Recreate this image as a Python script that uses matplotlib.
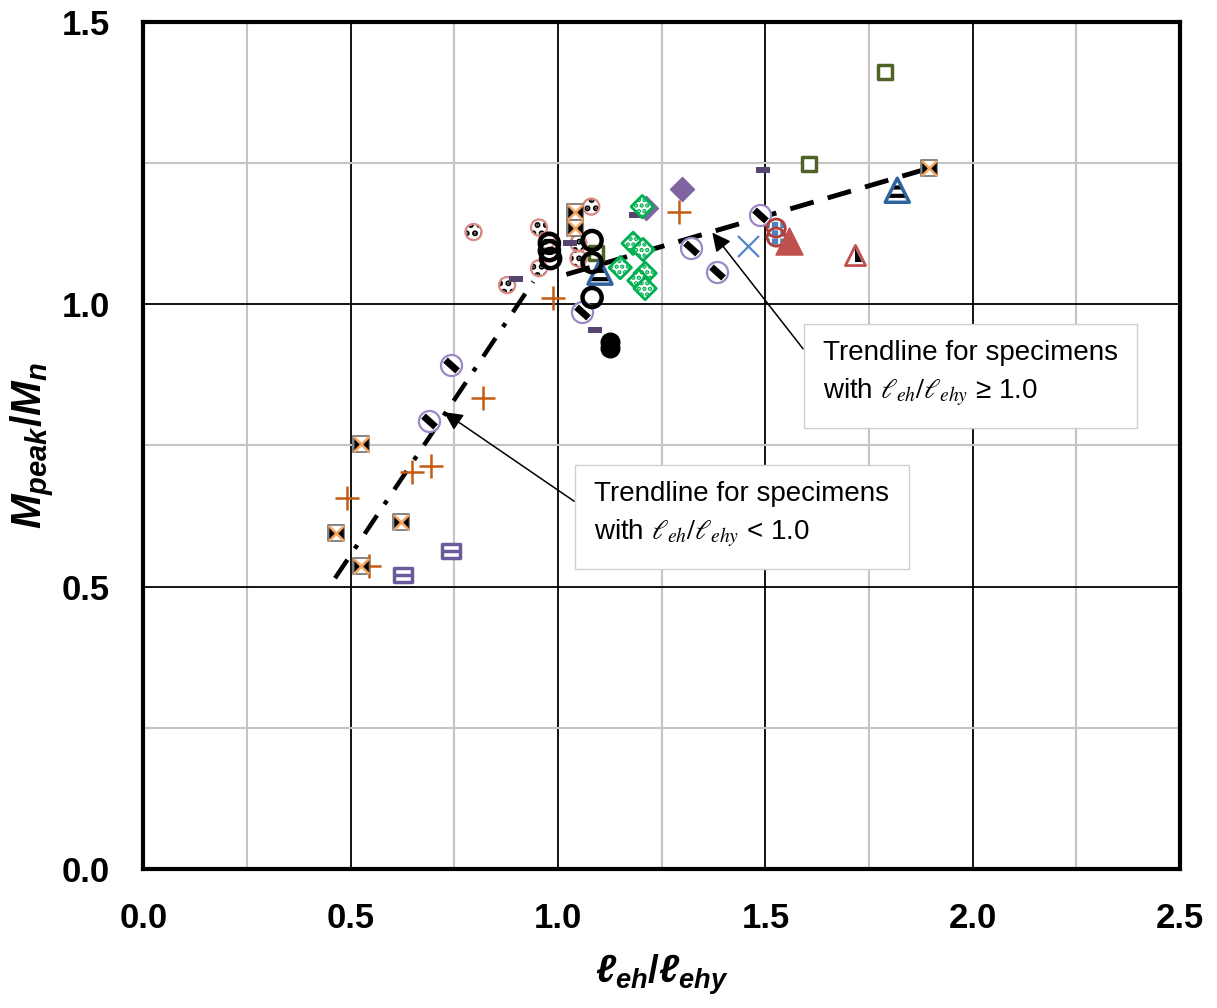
import numpy as np
import matplotlib
matplotlib.use("Agg")
import matplotlib.pyplot as plt
from matplotlib.path import Path

plt.rcParams['font.family'] = ['Liberation Sans', 'DejaVu Sans']
plt.rcParams['mathtext.fontset'] = 'custom'
plt.rcParams['mathtext.it'] = 'Liberation Sans:italic:bold'
plt.rcParams['mathtext.rm'] = 'Liberation Sans:bold'
plt.rcParams['mathtext.bf'] = 'Liberation Sans:italic:bold'

# ---- data ----
dot_circ_x = [0.796, 0.954, 1.080, 0.954, 1.049, 1.049, 0.877, 0.973]
dot_circ_y = [1.128, 1.136, 1.173, 1.064, 1.108, 1.081, 1.034, 1.113]

open_circ_x = [0.979, 0.979, 0.982, 1.082, 1.082, 1.082]
open_circ_y = [1.108, 1.095, 1.081, 1.113, 1.074, 1.012]

solid_circ_x = [1.126, 1.126]
solid_circ_y = [0.922, 0.934]

stripe_circ_x = [0.742, 0.689, 1.058, 1.321, 1.384, 1.487]
stripe_circ_y = [0.892, 0.793, 0.986, 1.099, 1.058, 1.158]

bar_x = [0.899, 1.029, 1.089, 1.188, 1.495]
bar_y = [1.044, 1.108, 0.954, 1.158, 1.237]

plus_x = [0.491, 0.544, 0.648, 0.694, 0.819, 0.988, 1.292]
plus_y = [0.657, 0.536, 0.703, 0.713, 0.834, 1.011, 1.163]

xsq_x = [0.464, 0.525, 0.525, 0.622, 1.041, 1.041, 1.895]
xsq_y = [0.595, 0.752, 0.536, 0.614, 1.163, 1.136, 1.241]

hsq_x = [0.626, 0.742]
hsq_y = [0.520, 0.563]

dot_dia_x = [1.203, 1.181, 1.205, 1.150, 1.210, 1.195, 1.210]
dot_dia_y = [1.173, 1.108, 1.097, 1.065, 1.055, 1.042, 1.028]

pdia_x = [1.299, 1.212]
pdia_y = [1.204, 1.170]

osq_x = [1.092, 1.606, 1.789]
osq_y = [1.090, 1.248, 1.412]

stri_x = [1.101, 1.818]
stri_y = [1.057, 1.202]

bx_x = [1.459]
bx_y = [1.104]

chk_x = [1.526, 1.526]
chk_y = [1.135, 1.119]

rtri_x = [1.557]
rtri_y = [1.113]

htri_x = [1.716]
htri_y = [1.088]

trend_lo_x = [0.462, 0.94]
trend_lo_y = [0.515, 1.040]
trend_hi_x = [1.02, 1.895]
trend_hi_y = [1.053, 1.241]

# ---- custom marker shapes ----
diag = Path([[-1, 0.9], [1, -0.9]], [Path.MOVETO, Path.LINETO])
hbar = Path([[-1, -0.42], [1, -0.42], [1, 0.42], [-1, 0.42], [-1, -0.42]], closed=True)
hrect = Path([[-1, -0.8], [1, -0.8], [1, 0.8], [-1, 0.8], [-1, -0.8]], closed=True)
bowtie = Path([[-1, 1], [0, 0], [1, 1], [1, -1], [0, 0], [-1, -1], [-1, 1]], closed=True)
half_tri = Path([[0, 1], [0, -1], [1, -1], [0, 1]], closed=True)


def hatched(x, y, marker, s, face, hcolor, hatch, zorder=3):
    # hatch takes the edge colour, so draw the fill+hatch first with a hidden edge
    ax.scatter(x, y, marker=marker, s=s, facecolor=face, edgecolor=hcolor,
               lw=0, hatch=hatch, zorder=zorder)


fig = plt.figure(figsize=(12.17, 10.08), dpi=100)
ax = fig.add_axes([0.1179, 0.1379, 0.8517, 0.8403])

ax.plot(trend_lo_x, trend_lo_y, color='black', lw=3.2, dashes=[5, 3, 1, 3], zorder=2)
ax.plot(trend_hi_x, trend_hi_y, color='black', lw=3.5, dashes=[5, 3], zorder=2)

plt.rcParams['hatch.linewidth'] = 3.0
hatched(dot_circ_x, dot_circ_y, 'o', 135, 'white', 'black', '..')
ax.scatter(dot_circ_x, dot_circ_y, marker='o', s=135, facecolor='none',
           edgecolor='#da8a84', lw=1.6, zorder=3)

ax.scatter(open_circ_x, open_circ_y, marker='o', s=190, facecolor='none',
           edgecolor='black', lw=3.2, zorder=4)
ax.scatter(solid_circ_x, solid_circ_y, marker='o', s=180, color='black', zorder=3)

ax.scatter(stripe_circ_x, stripe_circ_y, marker='o', s=230, facecolor='white',
           edgecolor='#9d88c6', lw=1.6, zorder=3)
ax.scatter(stripe_circ_x, stripe_circ_y, marker=diag, s=75, color='black',
           lw=5, zorder=3)

ax.scatter(bar_x, bar_y, marker=hbar, s=110, color='#55456f', lw=0, zorder=3)

ax.scatter(plus_x, plus_y, marker='+', s=300, color='#c55a11', lw=1.8, zorder=3)

ax.scatter(xsq_x, xsq_y, marker='s', s=125, facecolor='white',
           edgecolor='#707070', lw=1.2, zorder=3)
ax.scatter(xsq_x, xsq_y, marker=bowtie, s=110, color='black', lw=0, zorder=3)
ax.scatter(xsq_x, xsq_y, marker='x', s=120, color='#f4a460', lw=1.8, zorder=3)

ax.scatter(hsq_x, hsq_y, marker=hrect, s=180, facecolor='white',
           edgecolor='#6b5b9a', lw=2.5, zorder=3)
ax.scatter(hsq_x, hsq_y, marker='_', s=180, color='#6b5b9a', lw=2.5, zorder=3)

ax.scatter(pdia_x, pdia_y, marker='D', s=150, color='#8064a2', zorder=3)
plt.rcParams['hatch.linewidth'] = 2.2
ax.scatter(dot_dia_x, dot_dia_y, marker='D', s=130, facecolor='white',
           edgecolor='#00b050', lw=2, hatch='...', zorder=3)

ax.scatter(osq_x, osq_y, marker='s', s=115, facecolor='white',
           edgecolor='#4f6228', lw=2.5, zorder=3)

plt.rcParams['hatch.linewidth'] = 3.0
hatched(stri_x, stri_y, '^', 300, 'white', 'black', '--')
ax.scatter(stri_x, stri_y, marker='^', s=300, facecolor='none',
           edgecolor='#2f62a0', lw=2.5, zorder=3)

ax.scatter(bx_x, bx_y, marker='x', s=230, color='#4f87c8', lw=1.6, zorder=3)

plt.rcParams['hatch.linewidth'] = 1.5
hatched(chk_x, chk_y, 'o', 170, '#4f81bd', 'white', '++')
ax.scatter(chk_x, chk_y, marker='o', s=170, facecolor='none',
           edgecolor='#b0403d', lw=2, zorder=3)

ax.scatter(rtri_x, rtri_y, marker='^', s=380, color='#c0504d', zorder=3)

ax.scatter(htri_x, htri_y, marker='^', s=210, facecolor='white',
           edgecolor='#c0504d', lw=2, zorder=3)
ax.scatter(htri_x, htri_y, marker=half_tri, s=95, color='black', lw=0, zorder=3)

# ---- annotations ----
box = dict(boxstyle='square,pad=0.7', fc='white', ec='#d0d0d0', lw=1)
arrow = dict(arrowstyle='-|>', color='black', lw=1.1, mutation_scale=28,
             relpos=(0, 0.5), shrinkA=0, shrinkB=0)
ax.annotate('Trendline for specimens\nwith $\\ell_{eh}/\\ell_{ehy}$ \u2265 1.0',
            xy=(1.372, 1.127), xytext=(1.639, 0.876), textcoords='data',
            ha='left', va='center', fontsize=20, bbox=box, arrowprops=arrow,
            math_fontfamily='stix', linespacing=1.5, zorder=5)
ax.annotate('Trendline for specimens\nwith $\\ell_{eh}/\\ell_{ehy}$ < 1.0',
            xy=(0.725, 0.809), xytext=(1.087, 0.627), textcoords='data',
            ha='left', va='center', fontsize=20, bbox=box, arrowprops=arrow,
            math_fontfamily='stix', linespacing=1.5, zorder=5)

# ---- axes styling ----
ax.set_xlim(0, 2.5)
ax.set_ylim(0, 1.5)
ax.set_xticks(np.arange(0, 2.51, 0.5))
ax.set_yticks(np.arange(0, 1.51, 0.5))
ax.set_xticks(np.arange(0.25, 2.5, 0.5), minor=True)
ax.set_yticks(np.arange(0.25, 1.5, 0.5), minor=True)
ax.xaxis.set_major_formatter(matplotlib.ticker.FormatStrFormatter('%.1f'))
ax.yaxis.set_major_formatter(matplotlib.ticker.FormatStrFormatter('%.1f'))
ax.grid(which='major', color='black', lw=1.3)
ax.grid(which='minor', color='#c4c4c4', lw=1.5)
ax.set_axisbelow(True)
ax.tick_params(which='both', length=0)
ax.tick_params(axis='x', labelsize=25, pad=24)
ax.tick_params(axis='y', labelsize=25, pad=24)
for lab in ax.get_xticklabels() + ax.get_yticklabels():
    lab.set_fontweight('bold')
for sp in ax.spines.values():
    sp.set_linewidth(3)

ax.set_xlabel('$\\ell_{eh}/\\ell_{ehy}$', fontsize=28, labelpad=12)
ax.set_ylabel('$M_{peak}/M_n$', fontsize=30, labelpad=4)

fig.savefig('out.png', dpi=100)
